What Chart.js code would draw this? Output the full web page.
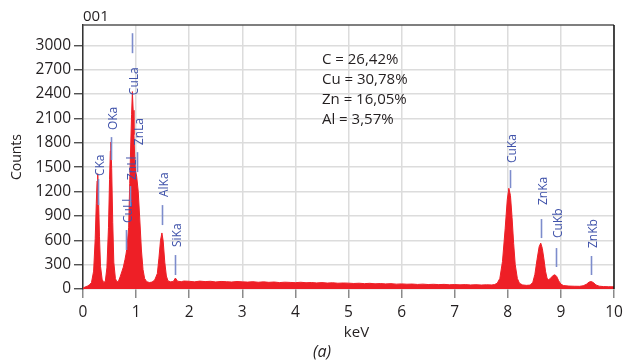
<!DOCTYPE html>
<html>
<head>
<meta charset="utf-8">
<script src="https://cdn.jsdelivr.net/npm/chart.js@4.4.1/dist/chart.umd.min.js"></script>
<style>
  html, body { margin: 0; padding: 0; background: #fff; }
</style>
</head>
<body>
<canvas id="spectrum" width="624" height="361"></canvas>
<script>
// EDS spectrum: energy in keV, counts per channel
const energy = [
  0.00, 0.04, 0.08, 0.12, 0.16, 0.20, 0.23, 0.25, 0.265, 0.277, 0.29, 0.31, 0.33, 0.36, 0.39,
  0.42, 0.45, 0.48, 0.50, 0.515, 0.525, 0.54, 0.56, 0.58, 0.61, 0.64,
  0.67, 0.70, 0.73, 0.76, 0.79, 0.81, 0.83, 0.86, 0.88, 0.90, 0.915, 0.93, 0.945, 0.96, 0.975,
  0.99, 1.01, 1.04, 1.07, 1.10, 1.13, 1.16, 1.20, 1.25, 1.30,
  1.35, 1.40, 1.43, 1.46, 1.486, 1.51, 1.54, 1.57, 1.60, 1.65, 1.70, 1.74, 1.78, 1.85, 1.90,
  2.0, 2.1, 2.2, 2.3, 2.4, 2.5, 2.6, 2.7, 2.8, 2.9, 3.0, 3.1, 3.2, 3.3, 3.4, 3.5, 3.6, 3.7, 3.8, 3.9,
  4.0, 4.1, 4.2, 4.3, 4.4, 4.5, 4.6, 4.7, 4.8, 4.9, 5.0, 5.1, 5.2, 5.3, 5.4, 5.5, 5.6, 5.7, 5.8, 5.9,
  6.0, 6.1, 6.2, 6.3, 6.4, 6.5, 6.6, 6.7, 6.8, 6.9, 7.0, 7.1, 7.2, 7.3, 7.4, 7.5, 7.6, 7.7, 7.75,
  7.80, 7.85, 7.90, 7.95, 7.99, 8.02, 8.05, 8.08, 8.11, 8.14, 8.18, 8.22, 8.28, 8.35, 8.42,
  8.47, 8.51, 8.55, 8.59, 8.62, 8.65, 8.68, 8.71, 8.74, 8.77, 8.81, 8.85, 8.89, 8.92, 8.96,
  9.00, 9.05, 9.15, 9.25, 9.35, 9.42, 9.48, 9.53, 9.57, 9.61, 9.66, 9.72, 9.80, 9.90, 10.0
];
const counts = [
  10, 25, 35, 50, 80, 220, 620, 1050, 1330, 1420, 1180, 650, 280, 120, 80,
  95, 260, 760, 1350, 1700, 1810, 1480, 820, 330, 130, 85,
  100, 150, 210, 270, 360, 430, 520, 760, 1300, 1800, 2150, 2430, 2200, 1900, 1600,
  1450, 1390, 1200, 850, 480, 240, 130, 90, 80, 85,
  110, 190, 380, 600, 690, 590, 330, 160, 100, 88, 92, 135, 96, 90, 98,
  95, 88, 97, 91, 95, 87, 93, 90, 86, 92, 88, 85, 90, 83, 88, 82, 86, 79, 84, 81,
  78, 83, 77, 80, 75, 79, 73, 77, 71, 74, 72, 68, 71, 66, 70, 64, 67, 63, 66, 60,
  63, 59, 61, 56, 60, 55, 58, 54, 57, 52, 55, 51, 54, 50, 53, 49, 52, 50, 55,
  70, 130, 340, 740, 1100, 1240, 1150, 880, 560, 300, 130, 70, 50, 45, 48,
  80, 180, 360, 520, 565, 500, 370, 220, 130, 115, 135, 165, 175, 155, 100,
  60, 42, 36, 34, 33, 40, 58, 85, 92, 80, 50, 35, 30, 28, 27
];

const xTicks = [0, 1, 2, 3, 4, 5, 6, 7, 8, 9, 10];
const yTicks = [0, 300, 600, 900, 1200, 1500, 1800, 2100, 2400, 2700, 3000];

// identified lines
const peakNames = ['CKa', 'OKa', 'CuLl', 'ZnLl', 'CuLa', 'ZnLa', 'AlKa', 'SiKa', 'CuKa', 'ZnKa', 'CuKb', 'ZnKb'];
const peakEnergy = [0.277, 0.525, 0.811, 0.884, 0.930, 1.012, 1.486, 1.740, 8.040, 8.630, 8.904, 9.570];

const composition = ['C = 26,42%', 'Cu = 30,78%', 'Zn = 16,05%', 'Al = 3,57%'];

const FONT = "'Open Sans', sans-serif";

// marker tick [top, bottom] and label baseline, in counts
const markerLayout = [
  [1353, 1033, 1390],
  [1870, 1587, 1956],
  [726, 480, 812],
  [1267, 1021, 1341],
  [3149, 2903, 2386],
  [1685, 1439, 1771],
  [1033, 787, 1132],
  [418, 172, 517],
  [1464, 1242, 1550],
  [861, 627, 1033],
  [504, 271, 627],
  [406, 172, 504]
];

const peakMarkers = {
  id: 'peakMarkers',
  afterDatasetsDraw(chart) {
    const { ctx, chartArea: a, scales: { x, y } } = chart;
    ctx.save();
    // frame top and right
    ctx.strokeStyle = '#555';
    ctx.lineWidth = 1.5;
    ctx.beginPath();
    ctx.moveTo(a.left, a.top);
    ctx.lineTo(a.right, a.top);
    ctx.stroke();
    ctx.strokeStyle = '#111';
    ctx.beginPath();
    ctx.moveTo(a.right, a.top);
    ctx.lineTo(a.right, a.bottom);
    ctx.stroke();

    peakNames.forEach((name, i) => {
      const px = Math.round(x.getPixelForValue(peakEnergy[i])) + 0.5;
      const [top, bottom, textAt] = markerLayout[i];
      ctx.strokeStyle = '#7d8ccc';
      ctx.lineWidth = 1.6;
      ctx.beginPath();
      ctx.moveTo(px, y.getPixelForValue(top));
      ctx.lineTo(px, y.getPixelForValue(bottom));
      ctx.stroke();

      ctx.save();
      ctx.translate(px + 2, y.getPixelForValue(textAt));
      ctx.rotate(-Math.PI / 2);
      ctx.fillStyle = '#3f52aa';
      ctx.font = '12px ' + FONT;
      ctx.textAlign = 'left';
      ctx.textBaseline = 'middle';
      ctx.fillText(name, 0, 0);
      ctx.restore();
    });

    // composition block
    ctx.fillStyle = '#231f20';
    ctx.font = '15px ' + FONT;
    ctx.textAlign = 'left';
    ctx.textBaseline = 'middle';
    composition.forEach((t, i) => {
      ctx.fillText(t, x.getPixelForValue(4.5), a.top + 35 + i * 20);
    });

    // spectrum name, axis titles and caption
    ctx.fillText('001', a.left, 17);
    ctx.textAlign = 'center';
    ctx.fillText('keV', x.getPixelForValue(5.15), 333);
    ctx.font = 'italic 16px ' + FONT;
    ctx.fillText('(a)', 322, 352);
    ctx.save();
    ctx.translate(17, 157);
    ctx.rotate(-Math.PI / 2);
    ctx.font = '14px ' + FONT;
    ctx.fillText('Counts', 0, 0);
    ctx.restore();
    ctx.restore();
  }
};

new Chart(document.getElementById('spectrum'), {
  type: 'line',
  data: {
    datasets: [{
      data: energy.map((e, i) => ({ x: e, y: counts[i] })),
      borderColor: '#ee1f26',
      backgroundColor: '#ee1f26',
      borderWidth: 1,
      fill: 'origin',
      pointRadius: 0,
      tension: 0
    }, {
      data: [{ x: 0, y: 0 }, { x: 10, y: 0 }],
      borderColor: '#d6cc00',
      borderWidth: 2,
      pointRadius: 0,
      fill: false
    }]
  },
  options: {
    responsive: false,
    animation: false,
    layout: { padding: { top: 25, right: 10, left: 0, bottom: 0 } },
    plugins: { legend: { display: false }, tooltip: { enabled: false } },
    scales: {
      x: {
        type: 'linear',
        min: 0,
        max: 10,
        afterBuildTicks: s => { s.ticks = xTicks.map(v => ({ value: v })); },
        afterFit: s => { s.height = 72; s.paddingLeft = 0; s.paddingRight = 0; },
        border: { display: false },
        grid: { color: '#dcdcdc', lineWidth: 1.5, tickLength: 9, tickColor: '#8a8a8a', tickWidth: 1.5 },
        ticks: { color: '#231f20', font: { family: FONT, size: 15.5 }, padding: 5, maxRotation: 0,
                 callback: v => String(v) }
      },
      y: {
        min: 0,
        max: 3250,
        afterBuildTicks: s => { s.ticks = yTicks.map(v => ({ value: v })); },
        afterFit: s => { s.width = 83; s.paddingTop = 0; s.paddingBottom = 0; },
        border: { color: '#333', width: 1.5 },
        grid: { color: '#dcdcdc', lineWidth: 1.5, tickLength: 9, tickColor: '#333', tickWidth: 1.2 },
        ticks: { color: '#231f20', font: { family: FONT, size: 15.5 }, padding: 3,
                 callback: v => String(v) }
      }
    }
  },
  plugins: [peakMarkers]
});
</script>
</body>
</html>
